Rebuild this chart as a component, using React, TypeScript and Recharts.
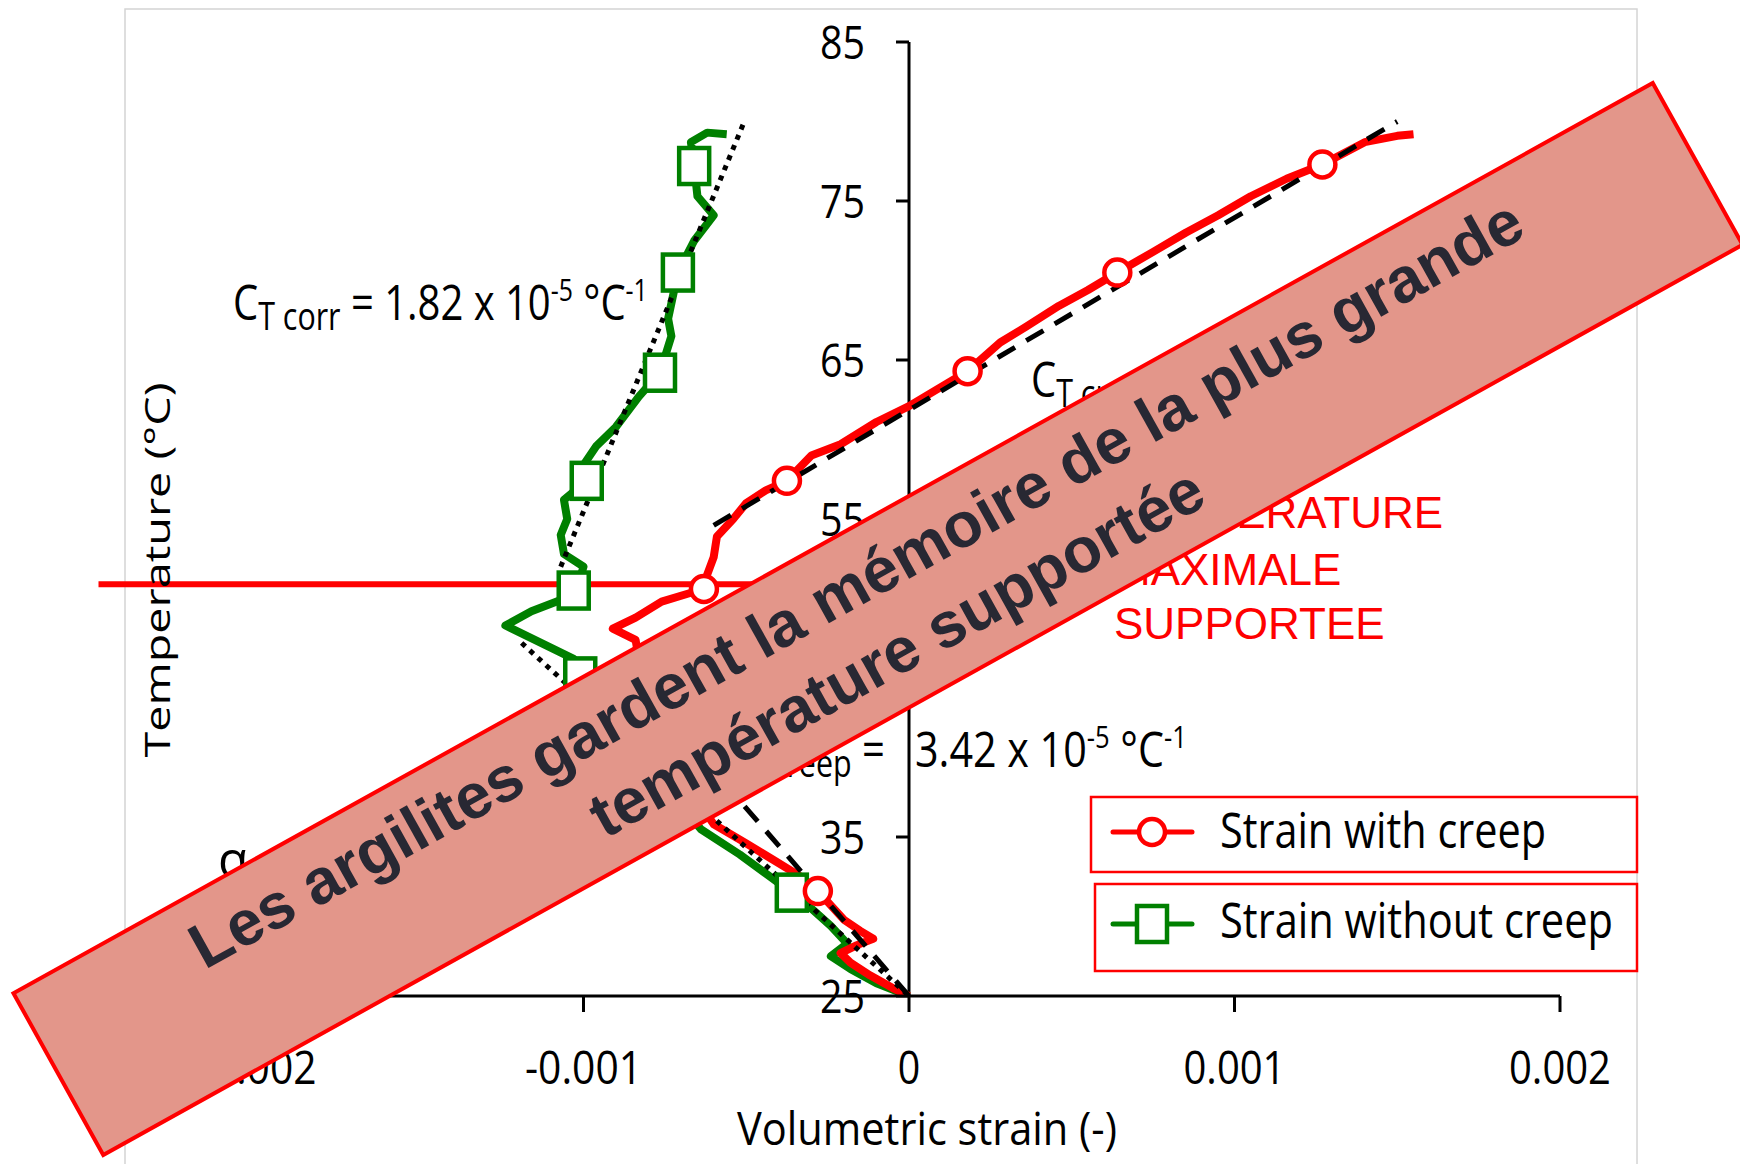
import React from 'react';
import { LineChart, Line, XAxis, YAxis, ReferenceLine } from 'recharts';

// ---------- data ----------
const xTicks = [-0.002, -0.001, 0, 0.001, 0.002];
const xTickLabels = ['-0.002', '-0.001', '0', '0.001', '0.002'];
const yTicks = [25, 35, 45, 55, 65, 75, 85];
const yTickLabels = ['25', '35', '45', '55', '65', '75', '85'];

// Strain with creep (red, circles)
const creepStrain = [
  0, -0.00005, -0.00012, -0.00018, -0.00021, -0.00016, -0.00011, -0.00015, -0.0002, -0.00024,
  -0.00028, -0.00034, -0.00042, -0.0005, -0.0006, -0.00064, -0.00068, -0.00071, -0.00074, -0.00077,
  -0.0008, -0.00083, -0.00084, -0.00091, -0.00084, -0.00076, -0.00068, -0.00063, -0.00062, -0.0006,
  -0.00059, -0.00054, -0.0005, -0.00044, -0.000375, -0.0003, -0.00021, -0.0001, 0, 0.00009,
  0.00018, 0.00028, 0.00036, 0.00046, 0.00055, 0.00064, 0.00075, 0.00085, 0.00095, 0.00105,
  0.00116, 0.00127, 0.0014, 0.0015, 0.00155,
];
const creepTemp = [
  25, 25.5, 26.3, 27.1, 27.7, 28.2, 28.6, 29.1, 29.8, 30.7,
  31.6, 32.6, 33.6, 34.6, 35.8, 37.0, 38.3, 40.0, 41.6, 43.0,
  44.5, 46.2, 47.4, 48.1, 48.8, 49.8, 50.3, 50.6, 51.5, 52.6,
  53.9, 55.0, 56.0, 56.8, 57.4, 59.0, 59.7, 61.1, 62.1, 63.2,
  64.3, 66.1, 67.1, 68.4, 69.4, 70.5, 71.8, 73.0, 74.1, 75.3,
  76.4, 77.3, 78.7, 79.1, 79.2,
];
const creepMarkerIdx = [10, 16, 20, 27, 34, 40, 45, 51];

// Strain without creep (green, squares)
const noCreepStrain = [
  0, -0.0001, -0.00018, -0.00024, -0.00019, -0.00024, -0.0003, -0.00036, -0.00042, -0.00052,
  -0.00064, -0.0007, -0.00075, -0.0008, -0.00086, -0.00093, -0.00101, -0.00103, -0.00114, -0.00124,
  -0.00116, -0.00107, -0.00103, -0.00101, -0.001, -0.00106, -0.00107, -0.00105, -0.00106, -0.00099,
  -0.001, -0.00096, -0.0009, -0.00083, -0.000765, -0.00073, -0.00074, -0.00071, -0.00066, -0.0006,
  -0.00065, -0.00066, -0.00067, -0.00062, -0.00056,
];
const noCreepTemp = [
  25, 25.8, 26.7, 27.5, 28.3, 29.4, 30.5, 31.5, 32.4, 33.9,
  35.5, 37.0, 38.4, 40.0, 42.0, 43.8, 45.1, 46.2, 47.3, 48.3,
  49.2, 49.9, 50.5, 51.3, 52.0, 52.8, 54.0, 55.0, 56.2, 57.4,
  58.4, 59.6, 60.8, 62.7, 64.2, 66.5, 67.6, 70.5, 72.5, 74.1,
  75.3, 77.2, 78.7, 79.3, 79.2,
];
const noCreepMarkerIdx = [7, 12, 16, 22, 29, 34, 37, 41];

// Fit lines
const fitCreepLowStrain = [0, -0.0008];
const fitCreepLowTemp = [25, 43.9];
const fitCreepHighStrain = [-0.0006, 0.0015];
const fitCreepHighTemp = [54.6, 80.0];
const fitNoCreepLowStrain = [-0.00119, 0];
const fitNoCreepLowTemp = [47.2, 25];
const fitNoCreepHighStrain = [-0.00107, -0.00051];
const fitNoCreepHighTemp = [52.0, 79.8];

// Maximum temperature marker line
const maxTempValue = 50.9;
const maxTempLineStrain = [-0.00249, 0.0006];

const seriesNames = ['Strain with creep', 'Strain without creep'];
const RED = '#FF0000';
const GREEN = '#008000';

// ---------- helpers ----------
const toPoints = (xs: number[], ys: number[], marks: number[] = []) =>
  xs.map((x, i) => ({ x, y: ys[i], m: marks.includes(i) }));

const creepData = toPoints(creepStrain, creepTemp, creepMarkerIdx);
const noCreepData = toPoints(noCreepStrain, noCreepTemp, noCreepMarkerIdx);
const fitCreepLow = toPoints(fitCreepLowStrain, fitCreepLowTemp);
const fitCreepHigh = toPoints(fitCreepHighStrain, fitCreepHighTemp);
const fitNoCreepLow = toPoints(fitNoCreepLowStrain, fitNoCreepLowTemp);
const fitNoCreepHigh = toPoints(fitNoCreepHighStrain, fitNoCreepHighTemp);

const CAL = "'Open Sans', 'DejaVu Sans', sans-serif";
const ARIAL = "'Liberation Sans', Arial, sans-serif";

const charW = (c: string) => (c === '.' ? 12 : c === '-' ? 15 : 22.5);
const tw = (s: string) => s.split('').reduce((a, c) => a + charW(c), 0);

const CircleDot = (props: any) => {
  const { cx, cy, payload } = props;
  if (!payload || !payload.m || cx == null) return <g />;
  return <circle cx={cx} cy={cy} r={13} fill="#fff" stroke={RED} strokeWidth={4.5} />;
};
const SquareDot = (props: any) => {
  const { cx, cy, payload } = props;
  if (!payload || !payload.m || cx == null) return <g />;
  return <rect x={cx - 15} y={cy - 18} width={30} height={36} fill="#fff" stroke={GREEN} strokeWidth={4.5} />;
};

const XTick = (props: any) => {
  const { x, y, payload } = props;
  const i = xTicks.indexOf(payload.value);
  const label = i >= 0 ? xTickLabels[i] : String(payload.value);
  return (
    <text x={x} y={y + 72} textAnchor="middle" fontFamily={CAL} fontSize={46} fill="#000"
      textLength={tw(label)} lengthAdjust="spacingAndGlyphs">{label}</text>
  );
};

const yTickLabel = (label: string) => (p: any) => {
  const vb = (p && p.viewBox) || { x: 0, y: 0 };
  return (
    <text x={vb.x - 31} y={vb.y + 16.5} textAnchor="end" fontFamily={CAL} fontSize={46} fill="#000"
      textLength={tw(label)} lengthAdjust="spacingAndGlyphs">{label}</text>
  );
};

export default function App() {
  return (
    <div style={{ position: 'absolute', left: 0, top: 0, width: 1740, height: 1164, background: '#fff', overflow: 'hidden' }}>
      {/* chart area frame */}
      <svg width={1740} height={1164} style={{ position: 'absolute', left: 0, top: 0 }}>
        <rect x={125} y={9} width={1512} height={1200} fill="#fff" stroke="#d4d4d4" strokeWidth={1.5} />
      </svg>
      <div style={{ position: 'absolute', left: 0, top: 0 }}>
        <LineChart width={1740} height={1164} margin={{ top: 42, right: 180, bottom: 138, left: 258 }}>
          <XAxis type="number" dataKey="x" domain={[-0.002, 0.002]} ticks={xTicks} allowDataOverflow
            height={30} axisLine={{ stroke: '#000', strokeWidth: 3 }} tickLine={{ stroke: '#000', strokeWidth: 3 }}
            tickSize={16} tickMargin={0} tick={<XTick />} interval={0} />
          <YAxis type="number" dataKey="y" domain={[25, 85]} ticks={yTicks} allowDataOverflow hide width={0} />
          <ReferenceLine x={0} stroke="#000" strokeWidth={3} ifOverflow="visible" />
          {yTicks.map((v, i) => (
            <ReferenceLine key={'yt' + v} segment={[{ x: -0.00004, y: v }, { x: 0, y: v }]} stroke="#000" strokeWidth={3}
              ifOverflow="visible" label={yTickLabel(yTickLabels[i])} />
          ))}
          <Line data={noCreepData} dataKey="y" name={seriesNames[1]} type="linear" stroke={GREEN} strokeWidth={8}
            strokeLinejoin="round" dot={SquareDot} activeDot={false} isAnimationActive={false} />
          <Line data={creepData} dataKey="y" name={seriesNames[0]} type="linear" stroke={RED} strokeWidth={8}
            strokeLinejoin="round" dot={CircleDot} activeDot={false} isAnimationActive={false} />
          <Line data={fitNoCreepHigh} dataKey="y" type="linear" stroke="#000" strokeWidth={5} strokeDasharray="5 6"
            dot={false} activeDot={false} isAnimationActive={false} />
          <Line data={fitNoCreepLow} dataKey="y" type="linear" stroke="#000" strokeWidth={5} strokeDasharray="5 6"
            dot={false} activeDot={false} isAnimationActive={false} />
          <Line data={fitCreepHigh} dataKey="y" type="linear" stroke="#000" strokeWidth={5} strokeDasharray="20 13"
            dot={false} activeDot={false} isAnimationActive={false} />
          <Line data={fitCreepLow} dataKey="y" type="linear" stroke="#000" strokeWidth={5} strokeDasharray="20 13"
            dot={false} activeDot={false} isAnimationActive={false} />
          <ReferenceLine segment={[{ x: maxTempLineStrain[0], y: maxTempValue }, { x: maxTempLineStrain[1], y: maxTempValue }]}
            stroke={RED} strokeWidth={6} ifOverflow="visible" />
        </LineChart>
      </div>
      {/* annotations, legend, banner */}
      <svg width={1740} height={1164} style={{ position: 'absolute', left: 0, top: 0, pointerEvents: 'none' }}>
        {/* axis titles */}
        <text transform="translate(170,570) rotate(-90)" textAnchor="middle" fontFamily={CAL} fontSize={35} fill="#000"
          textLength={375} lengthAdjust="spacingAndGlyphs">Temperature (°C)</text>
        <text x={927} y={1145} textAnchor="middle" fontFamily={CAL} fontSize={46} fill="#000"
          textLength={380} lengthAdjust="spacingAndGlyphs">Volumetric strain (-)</text>

        {/* C_T corr */}
        <g transform="translate(233,320) scale(0.8,1)">
          <text x={0} y={0} fontFamily={CAL} fontSize={50} fill="#000">
            C<tspan fontSize={38} dy={10}>T corr</tspan>
            <tspan dy={-10}> = 1.82 x 10</tspan>
            <tspan fontSize={31} dy={-19}>-5</tspan>
            <tspan dy={19}> °C</tspan>
            <tspan fontSize={31} dy={-19}>-1</tspan>
          </text>
        </g>

        {/* C_T creep (lower) */}
        <g transform="translate(722,767) scale(0.8,1)">
          <text x={0} y={0} fontFamily={CAL} fontSize={50} fill="#000">
            C<tspan fontSize={38} dy={10}>T creep</tspan>
            <tspan dy={-10}> =</tspan>
          </text>
        </g>
        <g transform="translate(915,767) scale(0.825,1)">
          <text x={0} y={0} fontFamily={CAL} fontSize={50} fill="#000">
            3.42 x 10<tspan fontSize={31} dy={-19}>-5</tspan>
            <tspan dy={19}> °C</tspan>
            <tspan fontSize={31} dy={-19}>-1</tspan>
          </text>
        </g>

        {/* C_T creep (upper, mostly hidden) */}
        <g transform="translate(1031,397) scale(0.8,1)">
          <text x={0} y={0} fontFamily={CAL} fontSize={50} fill="#000">
            C<tspan fontSize={38} dy={10}>T creep</tspan>
          </text>
        </g>

        {/* alpha */}
        <text x={218} y={877} fontFamily={CAL} fontSize={50} fill="#000">α</text>

        {/* red note */}
        <text fontFamily={ARIAL} fontSize={44} fill={RED}>
          <tspan x={1114} y={528}>TEMPERATURE</tspan>
          <tspan x={1114} y={585}>MAXIMALE</tspan>
          <tspan x={1114} y={639}>SUPPORTEE</tspan>
        </text>

        {/* legend */}
        <rect x={1091} y={797} width={546} height={75} fill="#fff" stroke={RED} strokeWidth={2.5} />
        <line x1={1113} y1={832} x2={1192} y2={832} stroke={RED} strokeWidth={5} strokeLinecap="round" />
        <circle cx={1152} cy={832} r={13} fill="#fff" stroke={RED} strokeWidth={4.5} />
        <text x={1220} y={848} fontFamily={CAL} fontSize={50} fill="#000" textLength={326} lengthAdjust="spacingAndGlyphs">{seriesNames[0]}</text>
        <rect x={1095} y={884} width={542} height={87} fill="#fff" stroke={RED} strokeWidth={2.5} />
        <line x1={1113} y1={924} x2={1192} y2={924} stroke={GREEN} strokeWidth={5} strokeLinecap="round" />
        <rect x={1137} y={906} width={30} height={36} fill="#fff" stroke={GREEN} strokeWidth={4.5} />
        <text x={1220} y={938} fontFamily={CAL} fontSize={50} fill="#000" textLength={393} lengthAdjust="spacingAndGlyphs">{seriesNames[1]}</text>

        {/* banner */}
        <g transform="translate(878,619) rotate(-29.04)">
          <rect x={-937.5} y={-92.5} width={1875} height={185} fill="#E3968A" stroke={RED} strokeWidth={4} />
          <text x={-2} y={-20} textAnchor="middle" fontFamily={ARIAL} fontWeight="bold" fontSize={63.5} fill="#282833">
            Les argilites gardent la mémoire de la plus grande
          </text>
          <text x={0} y={60} textAnchor="middle" fontFamily={ARIAL} fontWeight="bold" fontSize={63.5} fill="#282833">
            température supportée
          </text>
        </g>
      </svg>
    </div>
  );
}
